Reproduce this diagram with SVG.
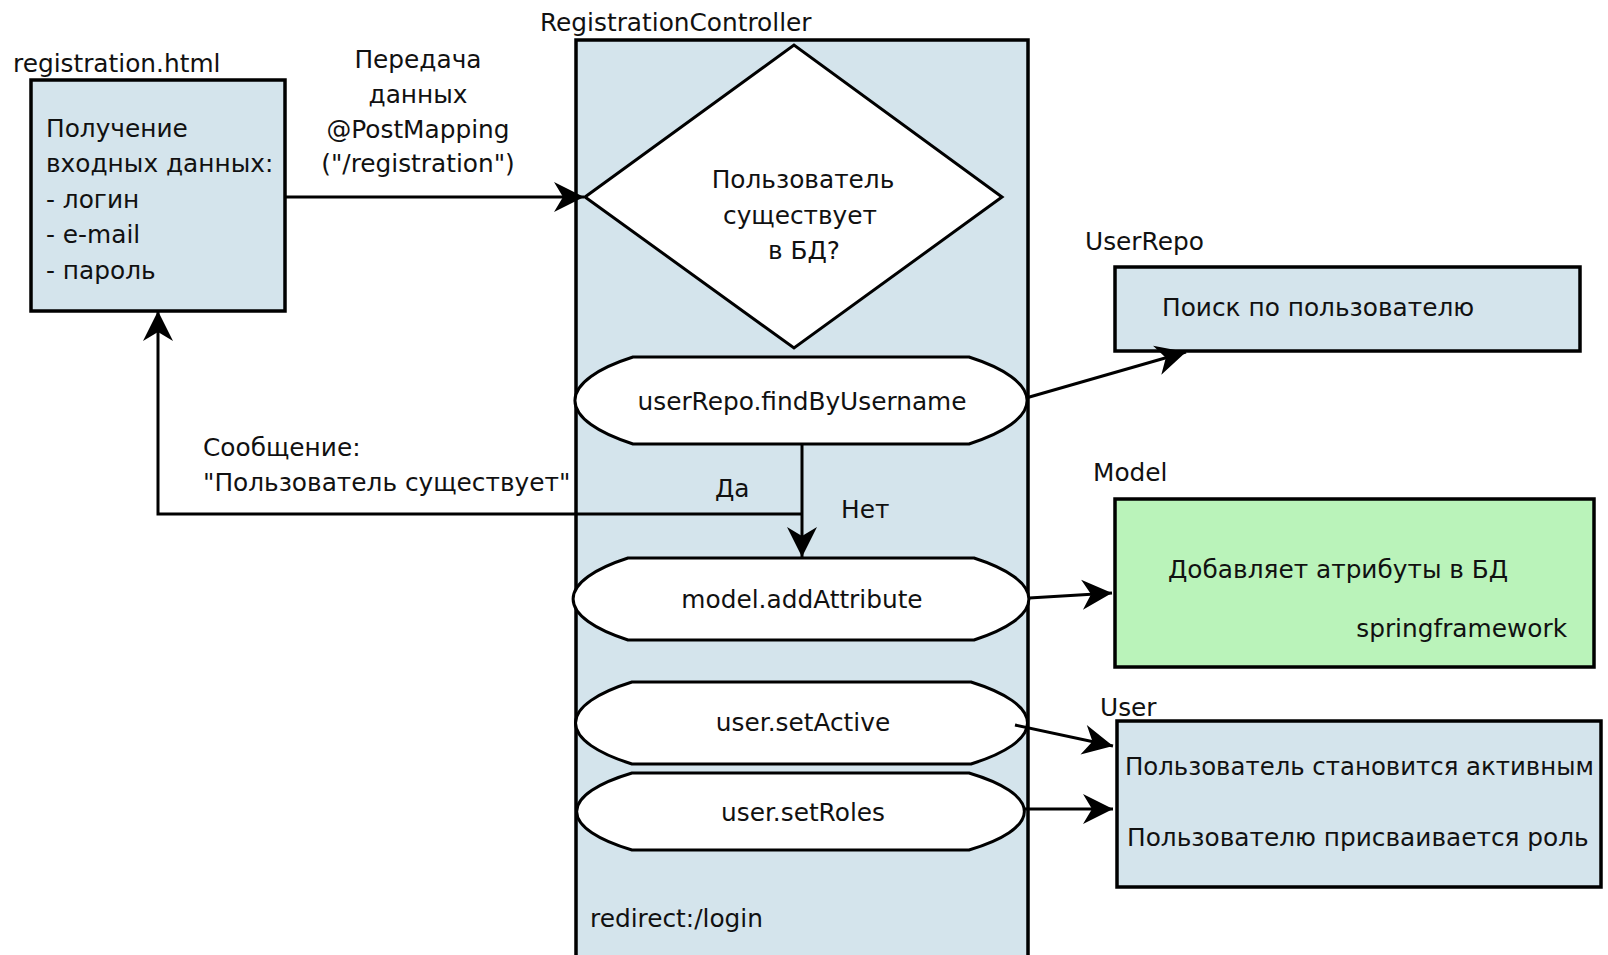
<svg xmlns="http://www.w3.org/2000/svg" width="1608" height="955" viewBox="0 0 1608 955">
<style>
text{font-family:"DejaVu Sans","Liberation Sans",sans-serif;font-size:24.8px;fill:#111}
.c{text-anchor:middle}
.box{fill:#d4e4ec;stroke:#000;stroke-width:3.5}
.green{fill:#baf3ba;stroke:#000;stroke-width:3.5}
.sh{fill:#fff;stroke:#000;stroke-width:3}
.ln{fill:none;stroke:#000;stroke-width:3;marker-end:url(#ah)}
</style>
<defs>
<marker id="ah" viewBox="-32 -17 34 34" refX="0" refY="0" markerWidth="34" markerHeight="34" markerUnits="userSpaceOnUse" orient="auto">
<path d="M0,0 L-30,-15 L-21,0 L-30,15 Z" fill="#000"/>
</marker>
</defs>
<rect width="1608" height="955" fill="#fff"/>

<g id="registration-html">
<text x="13" y="72">registration.html</text>
<rect class="box" x="31" y="80" width="254" height="231"/>
<text x="46" y="137">Получение</text>
<text x="46" y="172">входных данных:</text>
<text x="46" y="208">- логин</text>
<text x="46" y="243">- e-mail</text>
<text x="46" y="279">- пароль</text>
</g>

<g id="controller">
<text x="540" y="31">RegistrationController</text>
<rect class="box" x="576" y="40" width="452" height="930"/>
</g>

<g id="decision">
<polygon class="sh" points="585,197 794,45 1002,197 794,348"/>
<text class="c" x="803" y="188">Пользователь</text>
<text class="c" x="800" y="224">существует</text>
<text class="c" x="804" y="259">в БД?</text>
</g>

<g id="findByUsername">
<path class="sh" d="M633,357 L969,357 A226 65 0 0 1 969,444 L633,444 A226 65 0 0 1 633,357 Z"/>
<text class="c" x="802" y="410">userRepo.findByUsername</text>
</g>

<g id="addAttribute">
<path class="sh" d="M628,558 L974,558 A228 63 0 0 1 974,640 L628,640 A228 63 0 0 1 628,558 Z"/>
<text class="c" x="802" y="608">model.addAttribute</text>
</g>

<g id="setActive">
<path class="sh" d="M632,682 L971,682 A226 62 0 0 1 971,764 L632,764 A226 62 0 0 1 632,682 Z"/>
<text class="c" x="803" y="731">user.setActive</text>
</g>

<g id="setRoles">
<path class="sh" d="M632,773 L969,773 A224 58.5 0 0 1 969,850 L632,850 A224 58.5 0 0 1 632,773 Z"/>
<text class="c" x="803" y="821">user.setRoles</text>
</g>

<g id="redirect">
<text x="590" y="927">redirect:/login</text>
</g>

<g id="userRepo">
<text x="1085" y="250">UserRepo</text>
<rect class="box" x="1115" y="267" width="465" height="84"/>
<text x="1162" y="316">Поиск по пользователю</text>
</g>

<g id="model">
<text x="1093" y="481">Model</text>
<rect class="green" x="1115" y="499" width="479" height="168"/>
<text x="1168" y="578">Добавляет атрибуты в БД</text>
<text x="1567" y="637" text-anchor="end">springframework</text>
</g>

<g id="user">
<rect class="box" x="1117" y="721" width="484" height="166"/>
<text x="1100" y="716">User</text>
<text x="1125" y="775" style="font-size:24.4px">Пользователь становится активным</text>
<text x="1127" y="846">Пользователю присваивается роль</text>
</g>

<g id="connectors">
<path class="ln" d="M285,197 L584,197"/>
<path class="ln" d="M802,444 L802,557"/>
<path class="ln" d="M802,514 L158,514 L158,311"/>
<path class="ln" d="M1026,398 L1186,352"/>
<path class="ln" d="M1029,598 L1112,593"/>
<path class="ln" d="M1015,725 L1113,746"/>
<path class="ln" d="M1025,809 L1113,809"/>
<text class="c" x="418" y="68">Передача</text>
<text class="c" x="418" y="103">данных</text>
<text class="c" x="418" y="138">@PostMapping</text>
<text class="c" x="418" y="172">("/registration")</text>
<text x="203" y="456">Сообщение:</text>
<text x="203" y="491">"Пользователь существует"</text>
<text x="715" y="497">Да</text>
<text x="841" y="518">Нет</text>
</g>
</svg>
